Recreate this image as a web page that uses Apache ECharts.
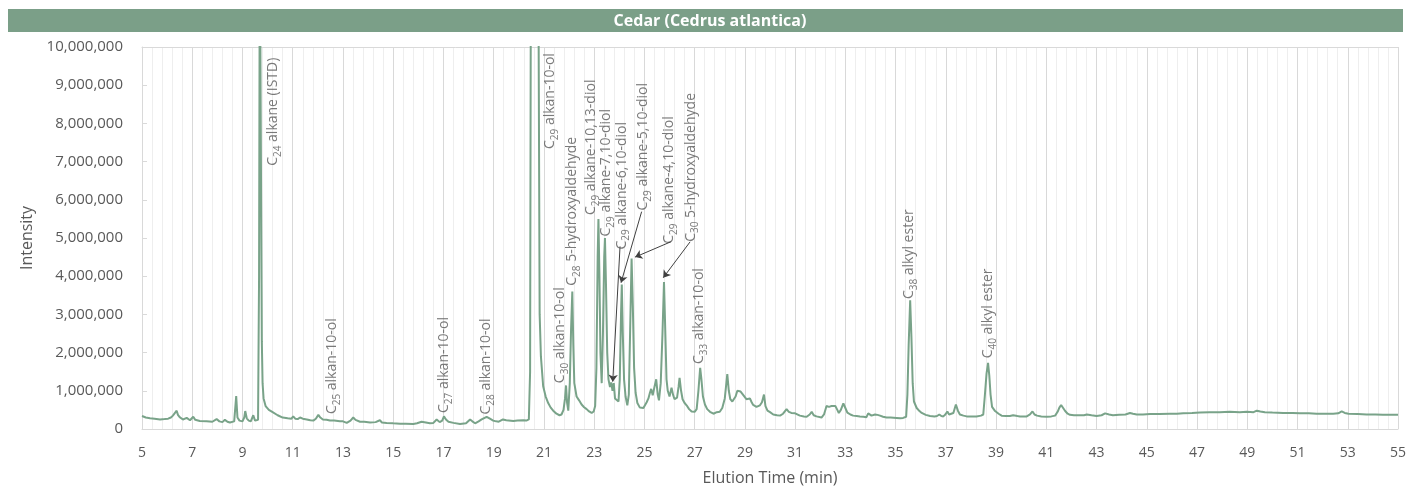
<!DOCTYPE html>
<html>
<head>
<meta charset="utf-8">
<title>Cedar (Cedrus atlantica)</title>
<script src="https://cdn.jsdelivr.net/npm/echarts@6/dist/echarts.min.js"></script>
<style>
  html, body { margin: 0; padding: 0; background: #fff; }
  #chart { width: 1410px; height: 491px; }
</style>
</head>
<body>
<div id="chart"></div>
<script>
// elution time (min), intensity (x 1,000,000)
var trace5to20 = [
	[5.0,0.34],[5.15,0.3],[5.32,0.28],[5.5,0.27],[5.72,0.25],[5.9,0.26],[6.04,0.27],[6.15,0.3],[6.23,0.35],[6.3,0.4],
	[6.38,0.48],[6.43,0.37],[6.5,0.31],[6.63,0.25],[6.78,0.29],[6.91,0.23],[7.04,0.32],[7.12,0.24],[7.3,0.21],[7.57,0.2],
	[7.8,0.19],[7.97,0.26],[8.08,0.2],[8.2,0.18],[8.3,0.24],[8.4,0.19],[8.5,0.17],[8.67,0.2],[8.75,0.86],[8.8,0.3],
	[8.88,0.22],[9.0,0.2],[9.07,0.3],[9.11,0.47],[9.17,0.28],[9.25,0.22],[9.33,0.2],[9.43,0.36],[9.5,0.22],[9.55,0.17],
	[9.62,0.24],[9.66,4.0],[9.69,13.0],[9.73,13.0],[9.77,2.3],[9.8,1.2],[9.84,0.8],[9.92,0.6],[10.05,0.5],[10.2,0.44],
	[10.4,0.36],[10.6,0.3],[10.8,0.28],[10.95,0.27],[11.02,0.33],[11.1,0.27],[11.2,0.26],[11.29,0.3],[11.4,0.27],[11.56,0.25],
	[11.7,0.23],[11.82,0.22],[11.92,0.27],[12.02,0.37],[12.1,0.3],[12.2,0.25],[12.35,0.24],[12.48,0.22],[12.65,0.22],[12.88,0.2],
	[13.0,0.2],[13.15,0.16],[13.3,0.22],[13.41,0.3],[13.5,0.24],[13.68,0.19],[13.85,0.19],[14.08,0.17],[14.3,0.18],[14.47,0.23],
	[14.55,0.17],[14.74,0.16],[15.0,0.15],[15.27,0.14],[15.5,0.14],[15.8,0.13],[15.95,0.15],[16.13,0.19],[16.3,0.17],[16.46,0.15],
	[16.6,0.16],[16.73,0.25],[16.85,0.18],[16.95,0.22],[17.02,0.33],[17.1,0.25],[17.2,0.19],[17.4,0.16],[17.66,0.13],[17.9,0.15],
	[18.06,0.25],[18.15,0.2],[18.26,0.15],[18.4,0.2],[18.52,0.25],[18.72,0.32],[18.85,0.27],[18.98,0.22],[19.1,0.2],[19.2,0.19],
	[19.37,0.25],[19.5,0.23],[19.78,0.21],[19.95,0.22],[20.18,0.23],[20.3,0.22],[20.4,0.25]
];
var trace20to30 = [
	[20.45,1.5],[20.48,12.0],[20.78,12.0],[20.83,3.0],[20.88,1.9],[20.97,1.12],[21.07,0.85],[21.17,0.68],[21.27,0.56],[21.37,0.48],
	[21.5,0.4],[21.62,0.36],[21.7,0.38],[21.78,0.5],[21.84,0.8],[21.88,1.14],[21.92,0.7],[21.97,0.48],[22.03,1.2],[22.08,2.6],
	[22.13,3.6],[22.17,2.2],[22.21,1.2],[22.3,0.85],[22.4,0.75],[22.5,0.64],[22.6,0.57],[22.7,0.52],[22.8,0.46],[22.9,0.42],
	[22.98,0.46],[23.04,0.6],[23.09,1.6],[23.14,4.5],[23.17,5.5],[23.21,4.0],[23.25,2.0],[23.3,1.2],[23.35,2.5],[23.4,4.5],
	[23.43,5.0],[23.47,3.8],[23.52,2.0],[23.57,1.3],[23.63,1.1],[23.68,1.22],[23.73,1.0],[23.78,1.2],[23.83,0.8],[23.9,0.76],
	[23.97,0.72],[24.02,1.3],[24.07,3.0],[24.1,3.78],[24.14,2.5],[24.19,1.3],[24.25,0.85],[24.32,0.62],[24.38,0.9],[24.43,2.5],
	[24.49,4.46],[24.54,3.2],[24.59,1.6],[24.65,0.95],[24.72,0.68],[24.82,0.56],[24.96,0.55],[25.09,0.7],[25.16,0.8],[25.22,0.95],
	[25.27,1.05],[25.33,0.88],[25.4,1.1],[25.47,1.3],[25.53,0.9],[25.58,0.75],[25.65,1.2],[25.72,2.5],[25.78,3.85],[25.83,2.6],
	[25.88,1.3],[25.93,1.0],[26.0,0.85],[26.08,1.08],[26.14,0.9],[26.2,0.78],[26.3,0.82],[26.36,1.1],[26.4,1.34],[26.46,1.0],
	[26.52,0.78],[26.6,0.68],[26.68,0.62],[26.78,0.52],[26.88,0.46],[27.0,0.45],[27.08,0.52],[27.15,1.0],[27.22,1.6],[27.27,1.3],
	[27.33,0.85],[27.41,0.64],[27.5,0.52],[27.61,0.45],[27.75,0.4],[27.88,0.44],[28.0,0.45],[28.1,0.55],[28.2,0.8],[28.3,1.44],
	[28.36,1.0],[28.42,0.78],[28.5,0.72],[28.56,0.7],[28.63,0.85],[28.7,1.0],[28.77,0.97],[28.83,0.98],[28.9,0.92],[28.96,0.88],
	[29.06,0.78],[29.13,0.75],[29.2,0.8],[29.27,0.7],[29.33,0.63],[29.4,0.6],[29.46,0.58],[29.53,0.6],[29.6,0.62],[29.68,0.7],
	[29.76,0.9],[29.82,0.6],[29.9,0.48]
];
var trace30to55 = [
	[30.0,0.44],[30.13,0.38],[30.28,0.36],[30.4,0.35],[30.52,0.4],[30.66,0.52],[30.75,0.45],[30.85,0.42],[31.0,0.41],[31.19,0.35],
	[31.35,0.33],[31.46,0.32],[31.58,0.38],[31.66,0.45],[31.74,0.36],[31.85,0.33],[32.05,0.3],[32.15,0.38],[32.25,0.6],[32.35,0.58],
	[32.45,0.6],[32.52,0.57],[32.6,0.6],[32.68,0.5],[32.74,0.42],[32.82,0.5],[32.92,0.67],[33.0,0.55],[33.08,0.43],[33.2,0.38],
	[33.31,0.35],[33.45,0.34],[33.58,0.33],[33.72,0.32],[33.84,0.31],[33.91,0.41],[33.98,0.36],[34.04,0.35],[34.18,0.38],[34.28,0.37],
	[34.38,0.35],[34.5,0.32],[34.64,0.3],[34.8,0.3],[35.04,0.29],[35.18,0.28],[35.3,0.29],[35.42,0.32],[35.47,0.9],[35.52,2.2],
	[35.58,3.37],[35.63,2.4],[35.68,1.2],[35.73,0.72],[35.84,0.55],[35.95,0.47],[36.04,0.42],[36.2,0.37],[36.37,0.34],[36.55,0.33],
	[36.65,0.34],[36.74,0.38],[36.82,0.34],[36.9,0.33],[36.98,0.38],[37.06,0.46],[37.13,0.38],[37.2,0.34],[37.3,0.42],[37.4,0.64],
	[37.48,0.48],[37.56,0.38],[37.7,0.35],[37.83,0.33],[38.0,0.33],[38.22,0.33],[38.4,0.35],[38.49,0.38],[38.55,0.85],[38.62,1.45],
	[38.68,1.73],[38.73,1.4],[38.78,0.9],[38.84,0.58],[38.96,0.47],[39.1,0.4],[39.22,0.35],[39.4,0.34],[39.55,0.34],[39.68,0.36],
	[39.75,0.38],[39.85,0.34],[39.95,0.33],[40.1,0.33],[40.22,0.33],[40.35,0.38],[40.45,0.46],[40.53,0.38],[40.63,0.35],[40.8,0.33],
	[41.02,0.32],[41.2,0.33],[41.35,0.35],[41.45,0.45],[41.52,0.56],[41.59,0.63],[41.67,0.55],[41.75,0.47],[41.85,0.4],[41.94,0.37],
	[42.1,0.36],[42.34,0.36],[42.5,0.36],[42.61,0.38],[42.8,0.36],[43.0,0.34],[43.2,0.36],[43.34,0.41],[43.5,0.38],[43.65,0.36],
	[43.9,0.37],[44.15,0.38],[44.33,0.42],[44.45,0.4],[44.6,0.38],[44.85,0.38],[45.13,0.39],[45.5,0.39],[45.92,0.4],[46.2,0.4],
	[46.45,0.41],[46.8,0.42],[47.12,0.43],[47.5,0.44],[47.9,0.44],[48.3,0.45],[48.7,0.44],[48.98,0.45],[49.25,0.44],[49.38,0.48],
	[49.44,0.52],[49.52,0.46],[49.7,0.44],[50.0,0.43],[50.43,0.42],[50.8,0.42],[51.1,0.41],[51.45,0.41],[51.76,0.4],[52.1,0.4],
	[52.42,0.4],[52.62,0.41],[52.76,0.46],[52.88,0.42],[53.03,0.4],[53.4,0.39],[53.75,0.38],[54.1,0.38],[54.4,0.37],[54.7,0.37],
	[55.0,0.37]
];

// peak names: carbon number (subscript) + rest of name
var peakCarbon = ['24','25','27','28','29','30','28','29','29','29','29','29','30','33','38','40'];
var peakName = [' alkane (ISTD)',' alkan-10-ol',' alkan-10-ol',' alkan-10-ol',' alkan-10-ol',' alkan-10-ol',
	' 5-hydroxyaldehyde',' alkane-10,13-diol',' alkane-7,10-diol',' alkane-6,10-diol',' alkane-5,10-diol',
	' alkane-4,10-diol',' 5-hydroxyaldehyde',' alkan-10-ol',' alkyl ester',' alkyl ester'];
// where each label starts (time, intensity x 1e6)
var labelAt = [[10.22,6.89],[12.58,0.39],[17.04,0.42],[18.69,0.38],[21.24,7.33],[21.64,1.2],[22.12,3.75],
	[22.87,5.6],[23.49,5.04],[24.09,4.7],[24.94,5.72],[25.98,4.85],[26.84,4.9],[27.18,1.7],[35.55,3.4],[38.69,1.85]];
// arrows from label to peak
var arrows = [
	[[24.03,4.78],[23.74,1.24]],
	[[24.89,5.69],[24.07,3.83]],
	[[26.05,4.9],[24.63,4.5]],
	[[26.82,4.9],[25.75,3.96]]
];

var M = 1000000;
var trace = trace5to20.concat(trace20to30, trace30to55).map(function(p) { return [p[0], p[1] * M]; });
var labelData = labelAt.map(function(p, i) { return [p[0], p[1] * M, i]; });
var arrowData = arrows.map(function(a) {
	return [{coord: [a[0][0], a[0][1] * M]}, {coord: [a[1][0], a[1][1] * M]}];
});

var FONT = '"Open Sans", "Noto Sans", sans-serif';
var GREY = '#595959';
var LINE = '#79a389';

var chart = echarts.init(document.getElementById('chart'), null, {renderer: 'canvas'});
chart.setOption({
	animation: false,
	textStyle: {fontFamily: FONT},
	graphic: [
		{type: 'rect', left: 8, top: 9, shape: {width: 1395, height: 23}, style: {fill: '#7b9f88'}},
		{type: 'text', x: 710, y: 21, style: {text: 'Cedar (Cedrus atlantica)', fill: '#fff',
			font: 'bold 16px ' + FONT, align: 'center', verticalAlign: 'middle'}}
	],
	grid: {left: 142, right: 12, top: 47, bottom: 58},
	xAxis: [{
		type: 'value',
		min: 5, max: 55, interval: 2,
		name: 'Elution Time (min)',
		nameLocation: 'middle',
		nameGap: 41,
		nameTextStyle: {color: GREY, fontSize: 16, fontFamily: FONT},
		axisLine: {show: true, lineStyle: {color: '#d9d9d9', width: 1}},
		axisTick: {show: false},
		axisLabel: {color: GREY, fontSize: 14, margin: 17, fontFamily: FONT},
		splitLine: {show: true, lineStyle: {color: '#d9d9d9', width: 1}},
		minorTick: {show: false, splitNumber: 5},
		minorSplitLine: {show: true, lineStyle: {color: '#eeeeee', width: 1}}
	}, {
		type: 'value', position: 'top',
		min: 5, max: 55,
		axisLine: {show: true, lineStyle: {color: '#d9d9d9', width: 1}},
		axisTick: {show: false}, axisLabel: {show: false}, splitLine: {show: false}
	}],
	yAxis: {
		type: 'value',
		min: 0, max: 10 * M, interval: M,
		name: 'Intensity',
		nameLocation: 'middle',
		nameGap: 106,
		nameTextStyle: {color: GREY, fontSize: 16, fontFamily: FONT},
		axisLine: {show: true, lineStyle: {color: '#d9d9d9', width: 1}},
		axisTick: {show: true, inside: true, length: 5, lineStyle: {color: '#d9d9d9'}},
		axisLabel: {color: GREY, fontSize: 15, margin: 19, fontFamily: FONT,
			formatter: function(v) { return v.toLocaleString('en-US'); }},
		splitLine: {show: false}
	},
	series: [{
		type: 'line',
		data: trace,
		showSymbol: false,
		smooth: false,
		clip: true,
		lineStyle: {color: LINE, width: 2},
		itemStyle: {color: LINE},
		markLine: {
			silent: true,
			symbol: ['none', 'arrow'],
			symbolSize: 7,
			label: {show: false},
			lineStyle: {color: '#404040', width: 1, type: 'solid'},
			data: arrowData
		}
	}, {
		type: 'scatter',
		data: labelData,
		symbolSize: 1,
		silent: true,
		itemStyle: {color: 'rgba(0,0,0,0)'},
		label: {
			show: true,
			position: 'inside',
			rotate: 90,
			align: 'left',
			verticalAlign: 'middle',
			color: GREY,
			formatter: function(p) {
				var i = p.data[2];
				return '{n|C}{s|' + peakCarbon[i] + '}{n|' + peakName[i] + '}';
			},
			rich: {
				n: {fontSize: 14, lineHeight: 20, color: GREY, fontFamily: FONT},
				s: {fontSize: 10, lineHeight: 10, height: 10, verticalAlign: 'bottom', color: GREY, fontFamily: FONT}
			}
		}
	}]
});
</script>
</body>
</html>
